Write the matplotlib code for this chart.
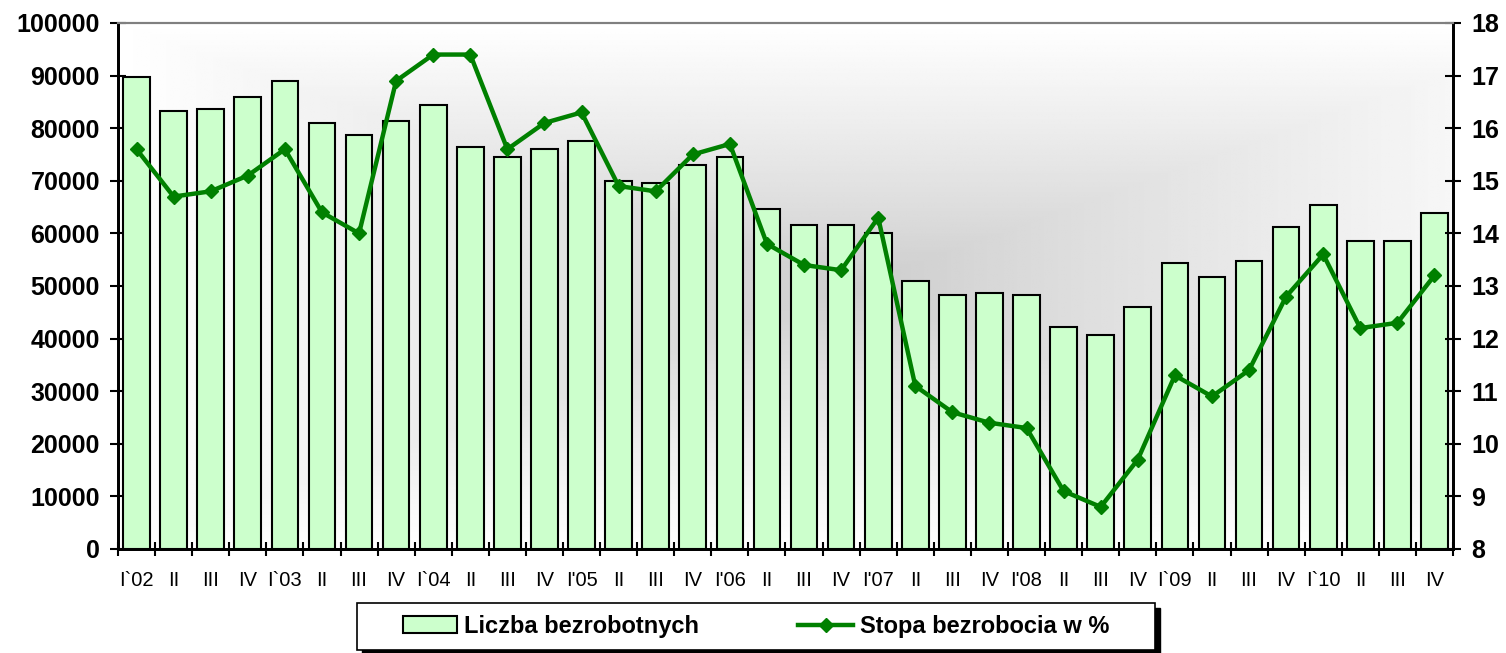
import numpy as np
import matplotlib.pyplot as plt
from matplotlib.patches import Rectangle, Patch
from matplotlib.lines import Line2D

plt.rcParams['font.family'] = ['Liberation Sans', 'DejaVu Sans']

quarters = ['I`02', 'II', 'III', 'IV', 'I`03', 'II', 'III', 'IV',
            'I`04', 'II', 'III', 'IV', "I'05", 'II', 'III', 'IV',
            "I'06", 'II', 'III', 'IV', "I'07", 'II', 'III', 'IV',
            "I'08", 'II', 'III', 'IV', 'I`09', 'II', 'III', 'IV',
            'I`10', 'II', 'III', 'IV']

bezrobotni = [89700, 83300, 83600, 85900, 89000, 81000, 78700, 81400,
              84400, 76400, 74500, 76000, 77600, 70000, 69600, 73000,
              74500, 64600, 61600, 61600, 60100, 51000, 48300, 48700,
              48300, 42200, 40700, 46000, 54400, 51700, 54800, 61200,
              65400, 58600, 58600, 63900]

stopa = [15.6, 14.7, 14.8, 15.1, 15.6, 14.4, 14.0, 16.9,
         17.4, 17.4, 15.6, 16.1, 16.3, 14.9, 14.8, 15.5,
         15.7, 13.8, 13.4, 13.3, 14.3, 11.1, 10.6, 10.4,
         10.3, 9.1, 8.8, 9.7, 11.3, 10.9, 11.4, 12.8,
         13.6, 12.2, 12.3, 13.2]

label_bars = 'Liczba bezrobotnych'
label_line = 'Stopa bezrobocia w %'

bar_color = '#CCFFCC'
line_color = '#008000'

fig = plt.figure(figsize=(15.06, 6.53), dpi=100)
ax = fig.add_axes([118 / 1506, 1 - 549 / 653, (1453 - 118) / 1506, (549 - 23) / 653])

# grey "from center" background
gx = np.linspace(0, 1, 400)
gy = np.linspace(0, 1, 300)
X, Y = np.meshgrid(gx, gy)
cx, cy = 0.55, 0.50
v = np.maximum(np.abs(X - cx) / 0.55, np.abs(Y - cy) / 0.50)
v = np.clip(v, 0, 1) ** 0.9
grey = 0.80 + 0.20 * v
ax.imshow(grey, cmap='gray', vmin=0, vmax=1, extent=[0, 1, 0, 1],
          transform=ax.transAxes, aspect='auto', zorder=0, origin='lower',
          interpolation='bilinear')

x = np.arange(len(quarters))
ax.bar(x, bezrobotni, width=0.72, color=bar_color, edgecolor='black',
       linewidth=1.5, zorder=2)
ax.set_xlim(-0.5, len(quarters) - 0.5)
ax.set_ylim(0, 100000)
ax.set_yticks(np.arange(0, 100001, 10000))
ax.set_xticks(x)
ax.set_xticklabels(quarters, fontsize=14.5)
ax.set_xticks(np.arange(-0.5, len(quarters), 1), minor=True)
ax.tick_params(axis='x', which='major', length=0, pad=16)
ax.tick_params(axis='x', which='minor', direction='inout', length=10, width=1.5)
ax.tick_params(axis='y', direction='inout', length=12, width=1.5, pad=7,
               labelsize=18)
for t in ax.get_yticklabels():
    t.set_fontweight('bold')

ax2 = ax.twinx()
ax2.plot(x, stopa, color=line_color, linewidth=3.2, marker='D',
         markersize=7, zorder=3)
ax2.set_ylim(8, 18)
ax2.set_yticks(np.arange(8, 19, 1))
ax2.tick_params(axis='y', direction='inout', length=12, width=1.5, pad=7,
                labelsize=18)
for t in ax2.get_yticklabels():
    t.set_fontweight('bold')

for a in (ax, ax2):
    a.spines['top'].set_color('#808080')
    a.spines['top'].set_linewidth(1.5)
    for s in ('left', 'right', 'bottom'):
        a.spines[s].set_color('black')
        a.spines[s].set_linewidth(2)

# legend box with shadow
bx0, bx1, by0, by1 = 357 / 1506, 1155 / 1506, 1 - 650 / 653, 1 - 603 / 653
fig.add_artist(Rectangle((bx0 + 5 / 1506, by0 - 5 / 653), bx1 - bx0, by1 - by0,
                         transform=fig.transFigure, facecolor='black',
                         edgecolor='black', zorder=1))
fig.add_artist(Rectangle((bx0, by0), bx1 - bx0, by1 - by0,
                         transform=fig.transFigure, facecolor='white',
                         edgecolor='black', linewidth=1.2, zorder=2))
handles = [Patch(facecolor=bar_color, edgecolor='black', linewidth=1.5),
           Line2D([], [], color=line_color, linewidth=3.2, marker='D', markersize=7)]
leg = fig.legend(handles, [label_bars, label_line], loc='center',
                 bbox_to_anchor=((bx0 + bx1) / 2, (by0 + by1) / 2),
                 ncol=2, frameon=False, handlelength=2.3, handletextpad=0.3,
                 columnspacing=4.2, numpoints=1,
                 prop={'size': 17, 'weight': 'bold'})
leg.set_zorder(3)

fig.savefig('out.png', dpi=100)
